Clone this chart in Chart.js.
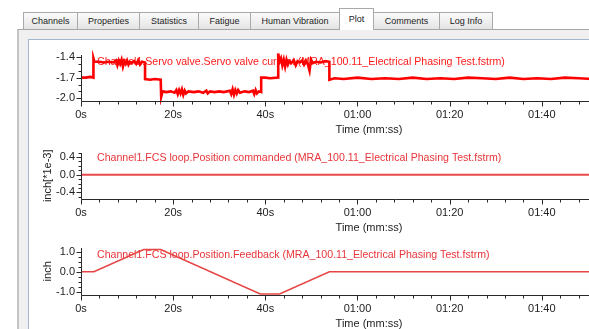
<!DOCTYPE html>
<html><head><meta charset="utf-8">
<script src="https://cdn.jsdelivr.net/npm/chart.js@4.4.1/dist/chart.umd.min.js"></script>
<style>
html,body{margin:0;padding:0;width:589px;height:329px;overflow:hidden;background:#fff;font-family:"Liberation Sans",Arial,sans-serif;}
.tab{position:absolute;top:12px;height:17px;box-sizing:border-box;border:1px solid #a9a9a9;border-bottom:none;background:linear-gradient(#fbfbfb,#e4e4e4);font-size:9px;color:#222;text-align:center;line-height:16px;white-space:nowrap;z-index:2}
.tab.sel{top:8px;height:22px;background:#fff;z-index:3;line-height:21px}
#panel{position:absolute;left:17px;top:29px;width:700px;height:400px;background:#f0f0f0;border-left:2px solid #c4c4c4;border-top:1px solid #a6a6a6;}
#inner{position:absolute;left:28px;top:39px;width:700px;height:400px;background:#fff;border-left:1px solid #a3b6cb;border-top:1px solid #a3b6cb;}
canvas{position:absolute;left:28px;}
</style></head>
<body>
<div id="panel"></div>
<div id="inner"></div>
<div id="tabs"></div>
<canvas id="c1" width="680" height="99" style="top:42px"></canvas>
<canvas id="c2" width="680" height="99" style="top:140px"></canvas>
<canvas id="c3" width="680" height="100" style="top:235px"></canvas>
<script>
// ---- tabs ----
const tabNames = ['Channels','Properties','Statistics','Fatigue','Human Vibration','Plot','Comments','Log Info'];
const selectedTab = 'Plot';
const tabEdges = [23,77,139,198,250,339,373,439,492];

// ---- x axis ----
const xMajorTicks = [0,20,40,60,80,100,120];
const xTickLabels = ['0s','20s','40s','01:00','01:20','01:40','02:00'];
const xAxisTitle = 'Time (mm:ss)';

// ---- plot 1: servo valve current ----
const servoTitle = 'Channel1.Servo valve.Servo valve current (MRA_100.11_Electrical Phasing Test.fstrm)';
const servoTime = [0,1,2,2.7,2.7,2.9,4,5,6,7,7.6,7.9,8.2,8.5,8.8,9.1,9.4,9.7,10,10.3,10.6,11,11.5,12,12.4,12.8,13.2,13.9,
  13.9,15,16,17.3,17.4,17.7,18.5,19.5,20.3,20.7,21,21.3,21.6,21.9,22.2,22.5,22.8,23.3,24.5,25.5,26.5,27.2,27.5,28,29,30,31,
  32.3,32.6,32.9,33.2,33.5,33.8,34.1,34.5,35.5,36.5,37.3,37.6,37.9,38.2,38.6,39.1,39.1,40,41,42.8,42.8,43.1,43.4,43.7,44,
  44.3,44.6,44.9,45.2,45.6,46.2,46.6,47,47.5,48,48.4,48.8,49.2,49.6,49.9,50.3,51,52,53,53.9,53.9,55,57,60,63,66,69,72,75,
  78,81,84,87,90,93,96,99,102,105,108,111,114,117,120,123,125];
const servoCurrent = [-1.70,-1.70,-1.69,-1.70,-1.42,-1.47,-1.47,-1.48,-1.47,-1.48,-1.45,-1.52,-1.45,-1.50,-1.44,-1.54,-1.46,-1.50,-1.45,-1.51,-1.47,-1.49,-1.46,-1.50,-1.45,-1.51,-1.47,-1.48,
  -1.72,-1.73,-1.72,-1.73,-1.98,-1.90,-1.91,-1.90,-1.92,-1.88,-1.94,-1.88,-1.93,-1.87,-1.95,-1.89,-1.93,-1.90,-1.91,-1.90,-1.92,-1.89,-1.93,-1.90,-1.91,-1.90,-1.91,
  -1.89,-1.94,-1.87,-1.95,-1.88,-1.93,-1.88,-1.92,-1.90,-1.91,-1.89,-1.94,-1.88,-1.93,-1.90,-1.91,-1.70,-1.70,-1.71,-1.70,-1.35,-1.47,-1.42,-1.52,-1.44,
  -1.54,-1.44,-1.51,-1.46,-1.49,-1.45,-1.52,-1.46,-1.48,-1.45,-1.51,-1.45,-1.50,-1.60,-1.44,-1.49,-1.47,-1.48,-1.46,-1.47,-1.73,-1.71,-1.72,-1.70,-1.72,-1.71,-1.72,-1.70,-1.72,
  -1.71,-1.72,-1.70,-1.71,-1.72,-1.70,-1.72,-1.71,-1.72,-1.70,-1.71,-1.72,-1.70,-1.71,-1.72,-1.71,-1.71];
const servoYTicks = [-2.0,-1.7,-1.4];

// ---- plot 2: position commanded ----
const cmdTitle = 'Channel1.FCS loop.Position commanded (MRA_100.11_Electrical Phasing Test.fstrm)';
const cmdTime = [0,125];
const cmdPosition = [0,0];
const cmdYTicks = [-0.4,0.0,0.4];
const cmdYTitle = 'inch[*1e-3]';

// ---- plot 3: position feedback ----
const fbTitle = 'Channel1.FCS loop.Position.Feedback (MRA_100.11_Electrical Phasing Test.fstrm)';
const fbTime = [0,2.8,13.6,17.3,38.9,43.1,53.9,125];
const fbPosition = [0,0,1.1,1.1,-1.1,-1.1,0,0];
const fbYTicks = [-1.0,0.0,1.0];
const fbYTitle = 'inch';

// build tabs
const tabsEl = document.getElementById('tabs');
tabNames.forEach((n,i)=>{
  const d=document.createElement('div');
  d.className='tab'+(n===selectedTab?' sel':'');
  d.style.left=tabEdges[i]+'px';
  d.style.width=(tabEdges[i+1]-tabEdges[i]+1)+'px';
  d.textContent=n;
  tabsEl.appendChild(d);
});

const FONT = '"Liberation Sans", Arial, sans-serif';

const axisPlugin = {
  id:'axisDraw',
  beforeDatasetsDraw(chart){
    const o = chart.options.plugins.axisDraw;
    const {ctx, chartArea:a} = chart;
    ctx.save();
    ctx.font = '10.6px ' + FONT;
    ctx.fillStyle = o.titleColor;
    ctx.textBaseline = 'middle';
    ctx.textAlign = 'left';
    ctx.fillText(o.title, a.left + 16, a.top + o.titleDy);
    ctx.restore();
  },
  afterDraw(chart){
    const o = chart.options.plugins.axisDraw;
    const {ctx, chartArea:a} = chart;
    const xs = chart.scales.x, ys = chart.scales.y;
    ctx.save();
    ctx.strokeStyle = '#2a2a2a';
    ctx.lineWidth = 1;
    ctx.beginPath();
    const L = Math.round(a.left)+0.5, B = Math.round(a.bottom)+0.5;
    ctx.moveTo(L, Math.round(a.top));
    ctx.lineTo(L, B);
    ctx.lineTo(a.right+60, B);
    const xs0 = Math.ceil(xs.min/o.xMinor), xs1 = Math.floor(xs.max/o.xMinor);
    for (let i=xs0;i<=xs1;i++){
      const v=i*o.xMinor;
      const major = xMajorTicks.some(m=>Math.abs(m-v)<1e-6);
      const px = Math.round(xs.getPixelForValue(v))+0.5;
      ctx.moveTo(px, B); ctx.lineTo(px, B+(major?5:3));
    }
    const y0 = Math.ceil(ys.min/o.yMinor - 1e-6), y1 = Math.floor(ys.max/o.yMinor + 1e-6);
    for (let i=y0;i<=y1;i++){
      const v=i*o.yMinor;
      const major = o.yMajors.some(m=>Math.abs(m-v)<1e-6);
      const py = Math.round(ys.getPixelForValue(v))+0.5;
      ctx.moveTo(L, py); ctx.lineTo(L-(major?5:3), py);
    }
    ctx.stroke();
    ctx.restore();
  }
};

function makeChart(id, cfg){
  const data = cfg.times.map((t,i)=>({x:t, y:cfg.values[i]}));
  return new Chart(document.getElementById(id), {
    type:'line',
    data:{datasets:[{data, borderColor:cfg.lineColor, borderWidth:cfg.lineWidth, pointRadius:0, tension:0, fill:false, clip:4}]},
    plugins:[axisPlugin],
    options:{
      responsive:false, animation:false,
      layout:{padding:{top:8,left:0,right:51,bottom:0}},
      plugins:{legend:{display:false}, tooltip:{enabled:false},
        axisDraw:{title:cfg.title, titleColor:cfg.titleColor, titleDy:cfg.titleDy, xMinor:4, yMinor:cfg.yMinor, yMajors:cfg.yTicks}},
      scales:{
        x:{type:'linear', min:0, max:125,
          grid:{display:false, drawTicks:false}, border:{display:false},
          afterBuildTicks:(s)=>{ s.ticks = xMajorTicks.map(v=>({value:v})); },
          afterFit:(s)=>{ s.height = 40; },
          ticks:{autoSkip:false, maxRotation:0, padding:7, color:'#222', font:{family:FONT, size:11},
            callback:(v)=>{ const i=xMajorTicks.indexOf(v); return i>=0 ? xTickLabels[i] : ''; }},
          title:{display:true, text:xAxisTitle, color:'#222', font:{family:FONT, size:11}, padding:{top:0,bottom:4}}
        },
        y:{type:'linear', min:cfg.yMin, max:cfg.yMax,
          grid:{display:false, drawTicks:false}, border:{display:false},
          afterBuildTicks:(s)=>{ s.ticks = cfg.yTicks.map(v=>({value:v})); },
          afterFit:(s)=>{ s.width = 53; },
          ticks:{autoSkip:false, padding:6, color:'#222', font:{family:FONT, size:11},
            callback:(v)=>Number(v).toFixed(1)},
          title:{display:!!cfg.yTitle, text:cfg.yTitle||'', color:'#222', font:{family:FONT, size:11}, padding:{top:13,bottom:0}}
        }
      }
    }
  });
}

makeChart('c1', {times:servoTime, values:servoCurrent, yMin:-2.04, yMax:-1.365, yTicks:servoYTicks, yMinor:0.1,
  title:servoTitle, titleDy:7, titleColor:'#ff1a1a', lineColor:'#ff0000', lineWidth:2.6});
makeChart('c2', {times:cmdTime, values:cmdPosition, yMin:-0.55, yMax:0.5, yTicks:cmdYTicks, yMinor:0.1,
  yTitle:cmdYTitle, title:cmdTitle, titleDy:5, titleColor:'#e8353a', lineColor:'#e84a4a', lineWidth:2});
makeChart('c3', {times:fbTime, values:fbPosition, yMin:-1.15, yMax:1.2, yTicks:fbYTicks, yMinor:0.25,
  yTitle:fbYTitle, title:fbTitle, titleDy:7, titleColor:'#e8353a', lineColor:'#e84444', lineWidth:1.5});
</script>
</body></html>
